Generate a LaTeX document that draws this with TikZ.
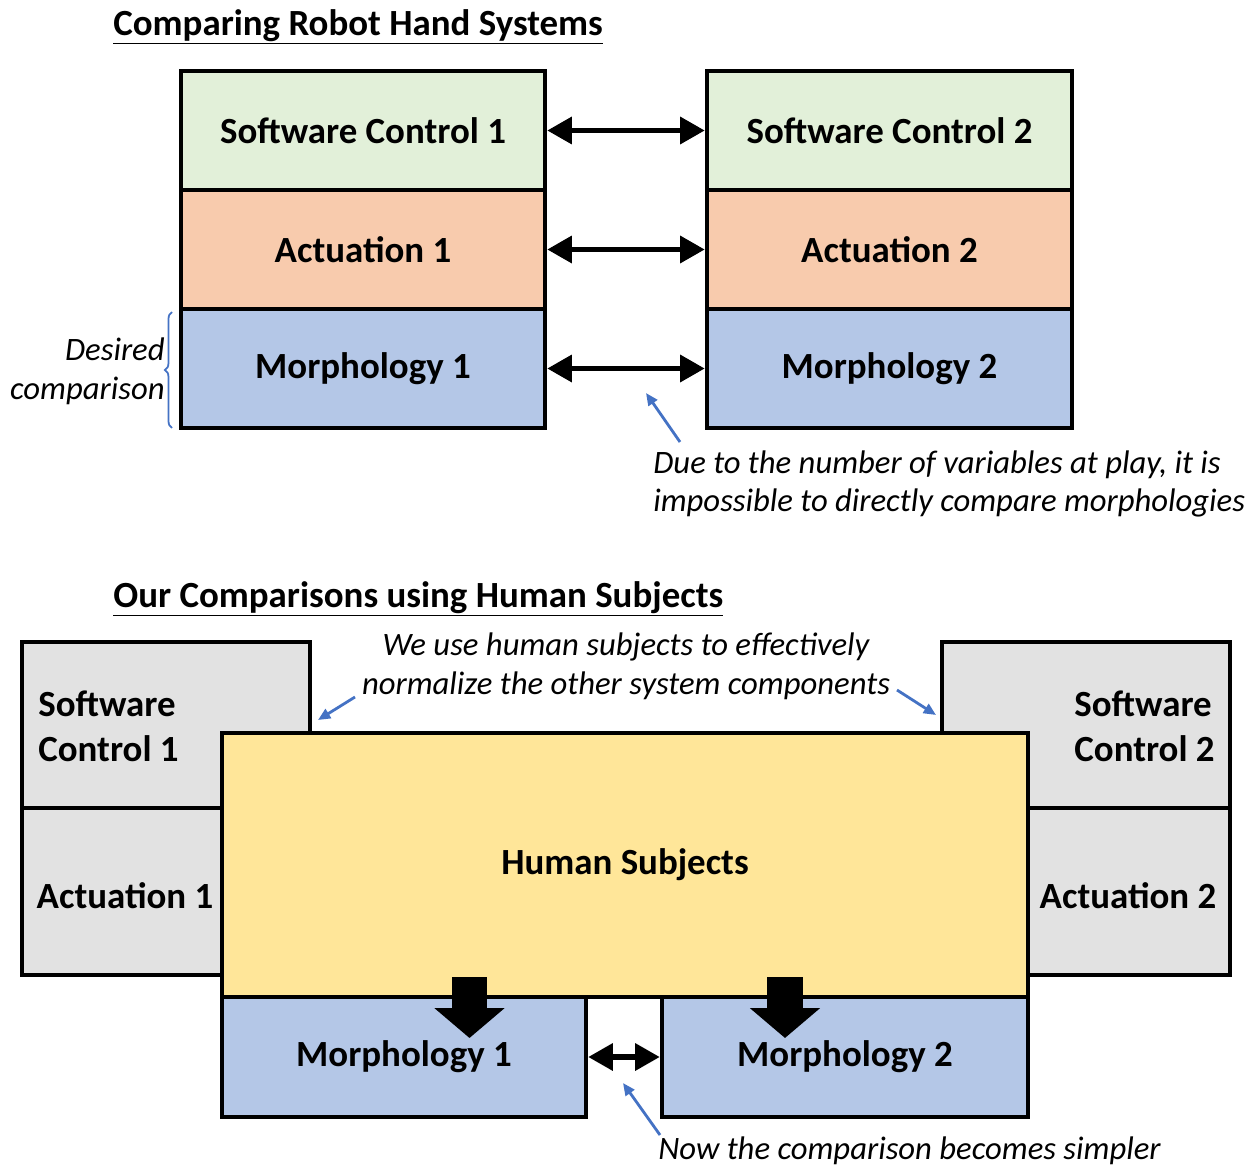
\documentclass[tikz,border=0pt]{standalone}
\usepackage{fontspec}
\setmainfont{Carlito}
\usetikzlibrary{arrows.meta,decorations.pathreplacing}
\definecolor{softgreen}{HTML}{E2F0D9}
\definecolor{softorange}{HTML}{F8CBAD}
\definecolor{softblue}{HTML}{B4C7E7}
\definecolor{softgray}{HTML}{E2E2E2}
\definecolor{softyellow}{HTML}{FFE699}
\definecolor{notecolor}{HTML}{4472C4}
\tikzset{
  box/.style={draw, line width=2.6pt, inner sep=0pt, font=\bfseries\fontsize{21}{25}\selectfont},
  boxtext/.style={inner sep=0pt, font=\bfseries\fontsize{21}{25.6}\selectfont},
  note/.style={inner sep=0pt, font=\itshape\fontsize{18.6}{22}\selectfont},
  heading/.style={inner sep=0pt, anchor=west, font=\bfseries\fontsize{21}{22}\selectfont},
  swap/.style={line width=3pt, {Triangle[width=15pt,length=14pt]}-{Triangle[width=15pt,length=14pt]}},
  pointer/.style={notecolor, line width=1.6pt, -{Triangle[width=6pt,length=7pt]}},
  push/.style={line width=20pt, -{Triangle[width=39pt,length=17pt]}},
}
\begin{document}
\begin{tikzpicture}[x=0.02cm,y=-0.02cm]
\useasboundingbox (0,0) rectangle (1255,1166);
% top part
\node[heading] (title1) at (113,27) {\underline{Comparing Robot Hand Systems}};
\node[box, fill=softgreen, minimum width=7.28cm, minimum height=2.38cm] (sc1) at (363,130.5) {Software Control 1};
\node[box, fill=softorange, minimum width=7.28cm, minimum height=2.38cm] (act1) at (363,249.5) {Actuation 1};
\node[box, fill=softblue, minimum width=7.28cm, minimum height=2.38cm] (mor1) at (363,368.5) {Morphology 1};
\node[box, fill=softgreen, minimum width=7.3cm, minimum height=2.38cm] (sc2) at (889.5,130.5) {Software Control 2};
\node[box, fill=softorange, minimum width=7.3cm, minimum height=2.38cm] (act2) at (889.5,249.5) {Actuation 2};
\node[box, fill=softblue, minimum width=7.3cm, minimum height=2.38cm] (mor2) at (889.5,368.5) {Morphology 2};
\draw[swap] (sc1.east) -- (sc2.west);
\draw[swap] (act1.east) -- (act2.west);
\draw[swap] (mor1.east) -- (mor2.west);
\draw[notecolor, line width=1pt, decorate, decoration={brace, amplitude=4pt}] (172,428) -- (172,312);
\node[note, anchor=east, align=right] (desired) at (165,371) {Desired\\comparison};
\node[note, anchor=north west, align=left] (due) at (653,450) {Due to the number of variables at play, it is\\impossible to directly compare morphologies};
\coordinate (due0) at (680,442);
\coordinate (due1) at (646,393);
\draw[pointer] (due0) -- (due1);
% bottom part
\node[heading] (title2) at (113,599) {\underline{Our Comparisons using Human Subjects}};
\node[box, fill=softgray, minimum width=5.76cm, minimum height=3.32cm] (hsc1) at (166,725) {};
\node[box, fill=softgray, minimum width=4cm, minimum height=3.34cm] (hact1) at (122,891.5) {};
\node[boxtext, anchor=west, align=left] at (38,726) {Software\\Control 1};
\node[boxtext] at (125,896) {Actuation 1};
\node[box, fill=softgray, minimum width=5.76cm, minimum height=3.32cm] (hsc2) at (1086,725) {};
\node[box, fill=softgray, minimum width=4.04cm, minimum height=3.34cm] (hact2) at (1129,891.5) {};
\node[boxtext, anchor=east, align=left] at (1215,726) {Software\\Control 2};
\node[boxtext] at (1128,896) {Actuation 2};
\node[box, fill=softyellow, minimum width=16.12cm, minimum height=5.28cm] (human) at (625,865) {Human Subjects};
\node[box, fill=softblue, minimum width=7.28cm, minimum height=2.4cm] (hmor1) at (404,1057) {Morphology 1};
\node[box, fill=softblue, minimum width=7.32cm, minimum height=2.4cm] (hmor2) at (845,1057) {Morphology 2};
\coordinate (push1) at (469.5,977);
\coordinate (push1end) at (469.5,1038);
\coordinate (push2) at (785,977);
\coordinate (push2end) at (785,1038);
\draw[push] (push1) -- (push1end);
\draw[push] (push2) -- (push2end);
\draw[swap] (hmor1.east) -- (hmor2.west);
\node[note, anchor=center, align=center] (normalize) at (626,666) {We use human subjects to effectively\\normalize the other system components};
\coordinate (norm0) at (355,697);
\coordinate (norm1) at (318,720);
\coordinate (norm2) at (897,690);
\coordinate (norm3) at (936,715);
\draw[pointer] (norm0) -- (norm1);
\draw[pointer] (norm2) -- (norm3);
\node[note, anchor=west] (simpler) at (658,1151) {Now the comparison becomes simpler};
\coordinate (simp0) at (660,1135);
\coordinate (simp1) at (623,1083);
\draw[pointer] (simp0) -- (simp1);
\end{tikzpicture}
\end{document}
